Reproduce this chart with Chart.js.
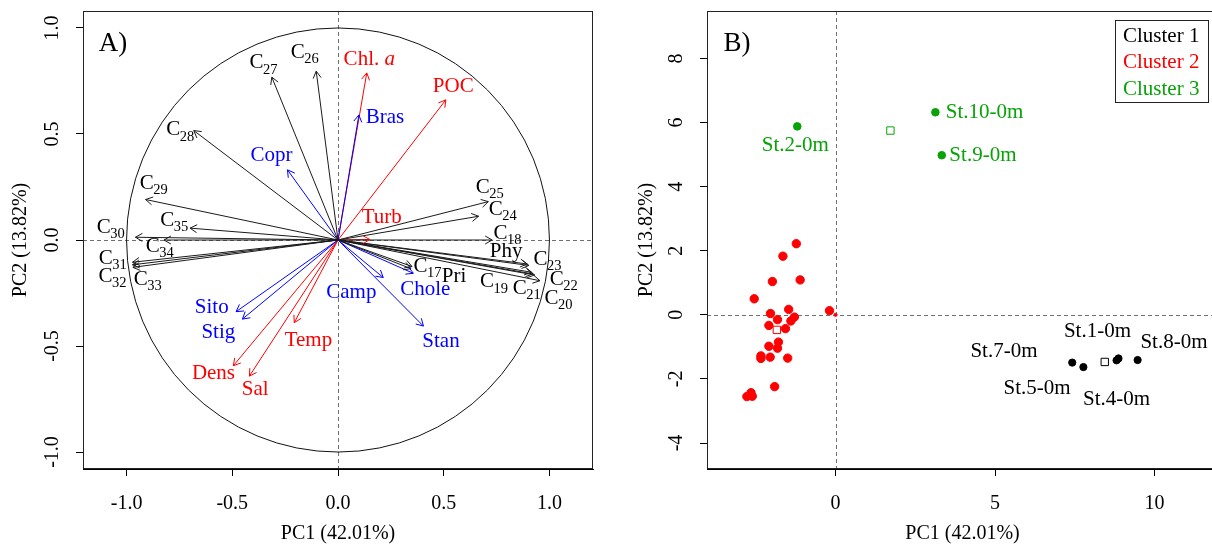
<!DOCTYPE html>
<html>
<head>
<meta charset="utf-8">
<script src="https://cdn.jsdelivr.net/npm/chart.js@4.4.1/dist/chart.umd.min.js"></script>
<style>
    body { margin: 0; background: #fff; }
    #wrap { position: relative; width: 1212px; height: 547px; overflow: hidden; }
    #chartA { position: absolute; left: 0; top: 0; }
    #chartB { position: absolute; left: 606px; top: 0; }
</style>
</head>
<body>
<div id="wrap">
    <canvas id="chartA" width="606" height="547"></canvas>
    <canvas id="chartB" width="620" height="547"></canvas>
</div>
<script>
// ---- panel A: variable loadings (PC1, PC2) ----
const hcNames = ['C17', 'Pri', 'C18', 'Phy', 'C19', 'C20', 'C21', 'C22', 'C23', 'C24', 'C25',
    'C26', 'C27', 'C28', 'C29', 'C30', 'C31', 'C32', 'C33', 'C34', 'C35'];
const hcPC1 = [0.350, 0.345, 0.729, 0.895, 0.915, 0.955, 0.922, 0.930, 0.903, 0.665, 0.711,
    -0.103, -0.313, -0.682, -0.910, -0.958, -0.972, -0.972, -0.970, -0.823, -0.700];
const hcPC2 = [-0.125, -0.135, 0.000, -0.113, -0.152, -0.192, -0.160, -0.165, -0.120, 0.112, 0.181,
    0.796, 0.768, 0.516, 0.191, 0.013, -0.105, -0.117, -0.129, 0.000, 0.056];

const sterolNames = ['Copr', 'Bras', 'Chole', 'Camp', 'Stig', 'Sito', 'Stan'];
const sterolPC1 = [-0.239, 0.099, 0.356, 0.214, -0.452, -0.482, 0.404];
const sterolPC2 = [0.331, 0.590, -0.157, -0.177, -0.373, -0.338, -0.406];

const envNames = ['Chl. a', 'POC', 'Turb', 'Temp', 'Dens', 'Sal'];
const envPC1 = [0.136, 0.510, 0.151, -0.207, -0.495, -0.419];
const envPC2 = [0.788, 0.661, 0.002, -0.390, -0.593, -0.642];

const ticksA = [-1, -0.5, 0, 0.5, 1];

// ---- panel B: station scores ----
const c1Names = ['St.7-0m', 'St.5-0m', 'St.4-0m', 'St.1-0m', 'St.8-0m'];
const c1PC1 = [7.42, 7.77, 8.81, 8.87, 9.47];
const c1PC2 = [-1.49, -1.63, -1.42, -1.36, -1.41];

const c2PC1 = [-1.23, -1.65, -1.98, -1.11, -2.55, -2.04, -1.47, -1.82, -1.29, -1.40, -2.09, -1.57,
    -1.79, -2.09, -1.82, -2.05, -2.34, -2.34, -1.50, -1.91, -2.65, -2.78, -2.61, -0.19];
const c2PC2 = [2.22, 1.83, 1.04, 1.09, 0.50, 0.04, 0.17, -0.15, -0.07, -0.19, -0.33, -0.43,
    -0.85, -0.98, -1.04, -1.32, -1.28, -1.36, -1.35, -2.24, -2.43, -2.55, -2.54, 0.13];

const c3Names = ['St.2-0m', 'St.10-0m', 'St.9-0m'];
const c3PC1 = [-1.20, 3.13, 3.33];
const c3PC2 = [5.88, 6.32, 4.98];

const centroidPC1 = [8.44, -1.84, 1.72];
const centroidPC2 = [-1.47, -0.47, 5.75];
const clusterNames = ['Cluster 1', 'Cluster 2', 'Cluster 3'];

const ticksBx = [0, 5, 10];
const ticksBy = [-4, -2, 0, 2, 4, 6, 8];

// ---- look ----
const BLACK = '#000000', RED = '#ff0000', BLUE = '#0000ff', GREEN = '#07a307';
const clusterColors = [BLACK, RED, GREEN];
const SERIF = "'Liberation Serif', 'DejaVu Serif', serif";
const LABEL_FONT = '21px ' + SERIF;
Chart.defaults.font.family = SERIF;
Chart.defaults.color = '#000';

// label anchors for panel A (data units, centre of the "C" or of the word)
const labelPosA = {
    'C17': [0.390, -0.125], 'Pri': [0.549, -0.170], 'C18': [0.768, 0.032], 'Phy': [0.795, -0.052],
    'C19': [0.705, -0.197], 'C20': [1.010, -0.275], 'C21': [0.860, -0.227], 'C22': [1.035, -0.185],
    'C23': [0.958, -0.090], 'C24': [0.746, 0.143], 'C25': [0.685, 0.250], 'C26': [-0.190, 0.884],
    'C27': [-0.386, 0.835], 'C28': [-0.779, 0.519], 'C29': [-0.905, 0.268], 'C30': [-1.108, 0.060],
    'C31': [-1.098, -0.086], 'C32': [-1.100, -0.173], 'C33': [-0.933, -0.184], 'C34': [-0.876, -0.031],
    'C35': [-0.807, 0.092],
    'Copr': [-0.314, 0.398], 'Bras': [0.222, 0.579], 'Chole': [0.413, -0.233], 'Camp': [0.063, -0.249],
    'Stig': [-0.566, -0.436], 'Sito': [-0.597, -0.318], 'Stan': [0.487, -0.480],
    'Chl. a': [0.148, 0.852], 'POC': [0.545, 0.723], 'Turb': [0.207, 0.107], 'Temp': [-0.140, -0.472],
    'Dens': [-0.589, -0.629], 'Sal': [-0.392, -0.704]
};
// label anchors for panel B (data units, centre of text)
const labelPosB = {
    'St.7-0m': [5.28, -1.13], 'St.5-0m': [6.32, -2.29], 'St.4-0m': [8.81, -2.65], 'St.1-0m': [8.21, -0.52],
    'St.8-0m': [10.61, -0.87], 'St.2-0m': [-1.26, 5.27], 'St.10-0m': [4.67, 6.32], 'St.9-0m': [4.62, 4.98]
};

function arrowData(px, py) {
    const d = [];
    px.forEach((x, i) => {
        d.push({x: 0, y: 0}, {x: x, y: py[i]}, {x: null, y: null});
    });
    return d;
}

function points(px, py) {
    return px.map((x, i) => ({x: x, y: py[i]}));
}

// zero lines, box, rotated y tick labels, panel letter
function framePlugin(letter, fmt) {
    return {
        id: 'frame' + letter,
        beforeDatasetsDraw(chart) {
            const ctx = chart.ctx, a = chart.chartArea;
            const xs = chart.scales.x, ys = chart.scales.y;
            const x0 = Math.round(xs.getPixelForValue(0)) + 0.5;
            const y0 = Math.round(ys.getPixelForValue(0)) + 0.5;
            ctx.save();
            ctx.strokeStyle = '#707070';
            ctx.lineWidth = 1;
            ctx.setLineDash([4, 3]);
            ctx.beginPath();
            ctx.moveTo(x0, a.top); ctx.lineTo(x0, a.bottom);
            ctx.moveTo(a.left, y0); ctx.lineTo(a.right, y0);
            ctx.stroke();
            ctx.restore();
        },
        afterDraw(chart) {
            const ctx = chart.ctx, a = chart.chartArea, ys = chart.scales.y;
            ctx.save();
            ctx.strokeStyle = '#222';
            ctx.lineWidth = 1;
            ctx.strokeRect(a.left + 0.5, a.top + 0.5, a.right - a.left - 1, a.bottom - a.top - 1);
            ctx.fillStyle = '#000';
            ctx.font = '20px ' + SERIF;
            ctx.textAlign = 'center';
            ctx.textBaseline = 'middle';
            ys.ticks.forEach(t => {
                ctx.save();
                ctx.translate(a.left - 30, ys.getPixelForValue(t.value));
                ctx.rotate(-Math.PI / 2);
                ctx.fillText(fmt(t.value), 0, 0);
                ctx.restore();
            });
            ctx.font = '27px ' + SERIF;
            ctx.fillText(letter + ')', a.left + 30, a.top + 33);
            ctx.restore();
        }
    };
}

const circleAndArrows = {
    id: 'circleAndArrows',
    beforeDatasetsDraw(chart) {
        const ctx = chart.ctx, xs = chart.scales.x, ys = chart.scales.y;
        const cx = xs.getPixelForValue(0), cy = ys.getPixelForValue(0);
        ctx.save();
        ctx.strokeStyle = '#111';
        ctx.lineWidth = 1;
        ctx.beginPath();
        ctx.ellipse(cx, cy, xs.getPixelForValue(1) - cx, cy - ys.getPixelForValue(1), 0, 0, Math.PI * 2);
        ctx.stroke();
        ctx.restore();
    },
    afterDatasetsDraw(chart) {
        const ctx = chart.ctx, xs = chart.scales.x, ys = chart.scales.y;
        const len = 8, ang = Math.PI / 6;
        chart.data.datasets.forEach(ds => {
            ctx.save();
            ctx.strokeStyle = ds.borderColor;
            ctx.lineWidth = 1;
            for (let i = 0; i < ds.data.length; i += 3) {
                const x0 = xs.getPixelForValue(ds.data[i].x), y0 = ys.getPixelForValue(ds.data[i].y);
                const x1 = xs.getPixelForValue(ds.data[i + 1].x), y1 = ys.getPixelForValue(ds.data[i + 1].y);
                const t = Math.atan2(y1 - y0, x1 - x0);
                ctx.beginPath();
                ctx.moveTo(x1 - len * Math.cos(t - ang), y1 - len * Math.sin(t - ang));
                ctx.lineTo(x1, y1);
                ctx.lineTo(x1 - len * Math.cos(t + ang), y1 - len * Math.sin(t + ang));
                ctx.stroke();
            }
            ctx.restore();
        });

        // labels
        const groups = [[hcNames, BLACK], [sterolNames, BLUE], [envNames, RED]];
        ctx.save();
        ctx.textBaseline = 'middle';
        groups.forEach(([names, col]) => {
            ctx.fillStyle = col;
            names.forEach(n => {
                const p = labelPosA[n];
                const px = xs.getPixelForValue(p[0]), py = ys.getPixelForValue(p[1]);
                if (/^C\d+$/.test(n)) {
                    ctx.font = LABEL_FONT;
                    ctx.textAlign = 'center';
                    ctx.fillText('C', px, py);
                    const w = ctx.measureText('C').width;
                    ctx.font = '14.5px ' + SERIF;
                    ctx.textAlign = 'left';
                    ctx.fillText(n.slice(1), px + w / 2 - 0.5, py + 7);
                } else if (n === 'Chl. a') {
                    ctx.font = LABEL_FONT;
                    const w1 = ctx.measureText('Chl. ').width;
                    ctx.font = 'italic ' + LABEL_FONT;
                    const w2 = ctx.measureText('a').width;
                    const left = px - (w1 + w2) / 2;
                    ctx.textAlign = 'left';
                    ctx.font = LABEL_FONT;
                    ctx.fillText('Chl. ', left, py);
                    ctx.font = 'italic ' + LABEL_FONT;
                    ctx.fillText('a', left + w1, py);
                } else {
                    ctx.font = LABEL_FONT;
                    ctx.textAlign = 'center';
                    ctx.fillText(n, px, py);
                }
            });
        });
        ctx.restore();
    }
};

const stationLabels = {
    id: 'stationLabels',
    afterDatasetsDraw(chart) {
        const ctx = chart.ctx, xs = chart.scales.x, ys = chart.scales.y, a = chart.chartArea;
        ctx.save();
        ctx.font = LABEL_FONT;
        ctx.textAlign = 'center';
        ctx.textBaseline = 'middle';
        [[c1Names, BLACK], [c3Names, GREEN]].forEach(([names, col]) => {
            ctx.fillStyle = col;
            names.forEach(n => {
                const p = labelPosB[n];
                ctx.fillText(n, xs.getPixelForValue(p[0]), ys.getPixelForValue(p[1]));
            });
        });
        // legend box, top right
        const lx = a.right - 9 - 94, ly = a.top + 9;
        ctx.fillStyle = '#fff';
        ctx.fillRect(lx, ly, 94, 83);
        ctx.strokeStyle = '#222';
        ctx.lineWidth = 1;
        ctx.strokeRect(lx + 0.5, ly + 0.5, 93, 82);
        ctx.textAlign = 'left';
        clusterNames.forEach((n, i) => {
            ctx.fillStyle = clusterColors[i];
            ctx.fillText(n, lx + 8, ly + 16 + i * 26.5);
        });
        ctx.restore();
    }
};

function scales(xr, yr, xTicks, yTicks, yWidth, yTitlePad, fmt) {
    return {
        x: {
            type: 'linear', position: 'bottom', min: xr[0], max: xr[1],
            afterBuildTicks: s => { s.ticks = xTicks.map(v => ({value: v})); },
            afterFit: s => { s.height = 78; },
            ticks: {font: {size: 20}, color: '#000', padding: 16, maxRotation: 0, autoSkip: false,
                callback: v => fmt(v)},
            grid: {drawOnChartArea: false, tickLength: 7, tickColor: '#000', color: '#000'},
            border: {display: true, color: '#000'},
            title: {display: true, text: 'PC1 (42.01%)', font: {size: 20, lineHeight: 1.2}, color: '#000',
                padding: {top: 0, bottom: 1}}
        },
        y: {
            type: 'linear', position: 'left', min: yr[0], max: yr[1],
            afterBuildTicks: s => { s.ticks = yTicks.map(v => ({value: v})); },
            afterFit: s => { s.width = yWidth; },
            ticks: {display: false},
            grid: {drawOnChartArea: false, tickLength: 7, tickColor: '#000', color: '#000'},
            border: {display: true, color: '#000'},
            title: {display: true, text: 'PC2 (13.82%)', font: {size: 20, lineHeight: 1.2}, color: '#000',
                padding: {top: yTitlePad, bottom: 0}}
        }
    };
}

const fmtA = v => v.toFixed(1);
const fmtB = v => String(v);

new Chart(document.getElementById('chartA'), {
    type: 'scatter',
    data: {
        datasets: [
            {data: arrowData(hcPC1, hcPC2), borderColor: '#1a1a1a'},
            {data: arrowData(sterolPC1, sterolPC2), borderColor: BLUE},
            {data: arrowData(envPC1, envPC2), borderColor: RED}
        ].map(d => Object.assign(d, {showLine: true, spanGaps: false, pointRadius: 0, borderWidth: 1}))
    },
    options: {
        responsive: false,
        animation: false,
        layout: {padding: {top: 11, right: 13, left: 0, bottom: 0}},
        plugins: {legend: {display: false}, tooltip: {enabled: false}},
        scales: scales([-1.206, 1.206], [-1.08, 1.08], ticksA, ticksA, 83, 9, fmtA)
    },
    plugins: [framePlugin('A', fmtA), circleAndArrows]
});

new Chart(document.getElementById('chartB'), {
    type: 'scatter',
    data: {
        datasets: [
            {data: points(c1PC1, c1PC2), pointRadius: 3.6, backgroundColor: BLACK, borderColor: BLACK},
            {data: points(c2PC1, c2PC2), pointRadius: 4.2, backgroundColor: RED, borderColor: RED},
            {data: points(c3PC1, c3PC2), pointRadius: 3.8, backgroundColor: GREEN, borderColor: GREEN},
            {data: [{x: 0, y: 0}], pointRadius: 1.6, backgroundColor: RED, borderColor: RED},
            {data: points(centroidPC1, centroidPC2), pointStyle: 'rect', pointRadius: 5.2, borderWidth: 1,
                backgroundColor: 'rgba(255,255,255,0)', borderColor: clusterColors}
        ]
    },
    options: {
        responsive: false,
        animation: false,
        layout: {padding: {top: 11, right: 8, left: 0, bottom: 0}},
        plugins: {legend: {display: false}, tooltip: {enabled: false}},
        scales: scales([-4.03, 11.99], [-4.81, 9.48], ticksBx, ticksBy, 101, 29, fmtB)
    },
    plugins: [framePlugin('B', fmtB), stationLabels]
});
</script>
</body>
</html>
